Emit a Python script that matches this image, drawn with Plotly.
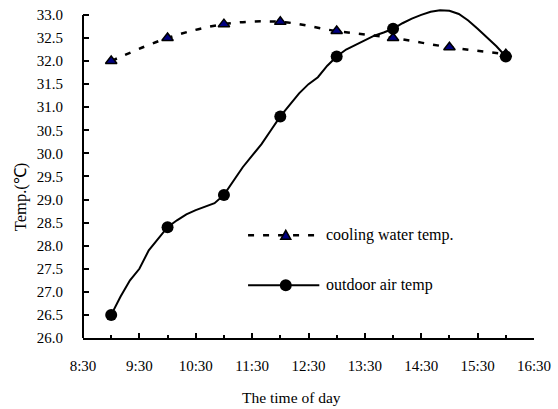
import plotly.graph_objects as go

# ---------------- data ----------------
# outdoor air temperature, 10-minute readings
air_times = ["9:00", "9:10", "9:20", "9:30", "9:40", "9:50",
             "10:00", "10:10", "10:20", "10:30", "10:40", "10:50",
             "11:00", "11:10", "11:20", "11:30", "11:40", "11:50",
             "12:00", "12:10", "12:20", "12:30", "12:40", "12:50",
             "13:00", "13:10", "13:20", "13:30", "13:40", "13:50",
             "14:00", "14:10", "14:20", "14:30", "14:40", "14:50",
             "15:00", "15:10", "15:20", "15:30", "15:40", "15:50",
             "16:00"]
air_temp = [26.5, 26.9, 27.25, 27.5, 27.9, 28.15,
            28.4, 28.55, 28.68, 28.77, 28.84, 28.92,
            29.1, 29.4, 29.7, 29.95, 30.2, 30.5,
            30.8, 31.05, 31.3, 31.5, 31.65, 31.9,
            32.1, 32.25, 32.35, 32.45, 32.55, 32.62,
            32.7, 32.82, 32.92, 33.0, 33.07, 33.1,
            33.09, 33.02, 32.88, 32.7, 32.52, 32.32,
            32.1]

# outdoor air temperature, marked points
air_mark_times = ["9:00", "10:00", "11:00", "12:00", "13:00", "14:00", "16:00"]
air_mark_temp = [26.5, 28.4, 29.1, 30.8, 32.1, 32.7, 32.1]

# cooling water temperature
water_times = ["9:00", "10:00", "11:00", "12:00", "13:00", "14:00", "15:00", "16:00"]
water_temp = [32.0, 32.5, 32.8, 32.85, 32.65, 32.5, 32.3, 32.15]

# axis ticks
x_tick_labels = ["8:30", "9:30", "10:30", "11:30", "12:30", "13:30", "14:30", "15:30", "16:30"]
x_minor_labels = ["9:00", "10:00", "11:00", "12:00", "13:00", "14:00", "15:00", "16:00"]
y_ticks = [26.0, 26.5, 27.0, 27.5, 28.0, 28.5, 29.0, 29.5, 30.0, 30.5,
           31.0, 31.5, 32.0, 32.5, 33.0]

series_names = ["cooling water temp.", "outdoor air temp"]


def hours(t):
    h, m = t.split(":")
    return int(h) + int(m) / 60.0


FONT = "Liberation Serif, Times New Roman, serif"

fig = go.Figure()

fig.add_trace(go.Scatter(
    x=[hours(t) for t in water_times], y=water_temp,
    mode="lines+markers", line=dict(color="black", width=2.5, dash="6px,9px", shape="spline"),
    marker=dict(symbol="triangle-up", size=10, color="#000080",
                line=dict(color="black", width=1.5)),
    showlegend=False, hoverinfo="skip"))

fig.add_trace(go.Scatter(
    x=[hours(t) for t in air_times], y=air_temp,
    mode="lines", line=dict(color="black", width=2),
    showlegend=False, hoverinfo="skip"))

fig.add_trace(go.Scatter(
    x=[hours(t) for t in air_mark_times], y=air_mark_temp,
    mode="markers", marker=dict(symbol="circle", size=12, color="black"),
    showlegend=False, hoverinfo="skip"))

shapes = [
    # y axis line from 26 to 33
    dict(type="line", xref="paper", yref="y", x0=0, x1=0, y0=y_ticks[0], y1=y_ticks[-1],
         line=dict(color="black", width=2)),
    # legend: cooling water
    dict(type="line", xref="paper", yref="paper", x0=0.366, x1=0.513, y0=0.311, y1=0.311,
         line=dict(color="black", width=2.5, dash="6px,9px")),
    dict(type="path", xref="paper", yref="paper", xsizemode="pixel", ysizemode="pixel",
         xanchor=0.4496, yanchor=0.311, path="M-5,-4 L5,-4 L0,5 Z",
         fillcolor="#000080", line=dict(color="black", width=1.5)),
    # legend: outdoor air
    dict(type="line", xref="paper", yref="paper", x0=0.366, x1=0.524, y0=0.160, y1=0.160,
         line=dict(color="black", width=2)),
    dict(type="circle", xref="paper", yref="paper", xsizemode="pixel", ysizemode="pixel",
         xanchor=0.4496, yanchor=0.160, x0=-6, x1=6, y0=-6, y1=6,
         fillcolor="black", line=dict(color="black", width=0)),
]

annotations = [
    dict(text=series_names[0], xref="paper", yref="paper", x=0.535, y=0.311,
         xanchor="left", yanchor="middle", showarrow=False,
         font=dict(family=FONT, size=16, color="black")),
    dict(text=series_names[1], xref="paper", yref="paper", x=0.535, y=0.160,
         xanchor="left", yanchor="middle", showarrow=False,
         font=dict(family=FONT, size=16, color="black")),
    dict(text="The time of day", xref="paper", yref="paper", x=0.4627, y=-0.181,
         xanchor="center", yanchor="middle", showarrow=False,
         font=dict(family=FONT, size=15.5, color="black")),
    dict(text="Temp.(℃)", xref="paper", yref="paper", x=-0.138, y=0.426,
         xanchor="center", yanchor="middle", showarrow=False, textangle=-90,
         font=dict(family=FONT, size=16.5, color="black")),
]

fig.update_layout(
    width=558, height=409,
    margin=dict(l=83, r=19, t=7, b=71),
    paper_bgcolor="white", plot_bgcolor="white",
    font=dict(family=FONT, size=14, color="black"),
    shapes=shapes, annotations=annotations,
    xaxis=dict(
        range=[hours(x_tick_labels[0]), hours(x_tick_labels[-1])],
        tickvals=[hours(t) for t in x_tick_labels], ticktext=x_tick_labels,
        ticks="inside", ticklen=5, tickwidth=2, tickcolor="black",
        minor=dict(tickvals=[hours(t) for t in x_minor_labels], ticks="inside",
                   ticklen=3, tickwidth=2, tickcolor="black"),
        showline=True, linecolor="black", linewidth=2,
        showgrid=False, zeroline=False,
        ticklabelstandoff=13,
        tickfont=dict(family=FONT, size=15, color="black"),
    ),
    yaxis=dict(
        range=[26, 33.15],
        tickvals=y_ticks, ticktext=[f"{v:.1f}" for v in y_ticks],
        ticks="inside", ticklen=6, tickwidth=2, tickcolor="black",
        showline=False, showgrid=False, zeroline=False,
        ticklabelstandoff=19,
        tickfont=dict(family=FONT, size=15, color="black"),
    ),
)

fig.write_html("out.html", config={"displayModeBar": False},
               post_script="document.body.style.margin='0';document.body.style.overflow='hidden';")
